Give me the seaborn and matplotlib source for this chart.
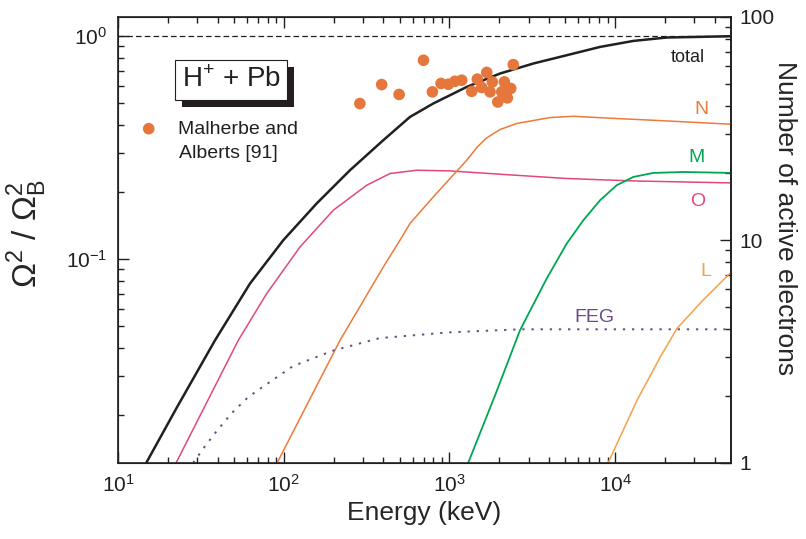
import numpy as np
import pandas as pd
import seaborn as sns
import matplotlib.pyplot as plt
import matplotlib.ticker as mticker
import matplotlib.patheffects as pe

# energies in keV, values as Omega^2 / Omega_B^2
total_E = [14.8, 22.7, 38.5, 62.6, 99.4, 158, 251, 399, 578, 799, 1272, 2020, 3208, 5105, 8110, 12880, 20480, 50000]
total_r = [0.0122, 0.0217, 0.0433, 0.0778, 0.1217, 0.1778, 0.2506, 0.3418, 0.4346, 0.4993, 0.5925, 0.6804, 0.7545, 0.8219, 0.8954, 0.9526, 0.9867, 1.0]

O_E = [22.4, 53.2, 79.0, 125.4, 199.2, 316.9, 438, 635, 1009, 2020, 5105, 12880, 50000]
O_r = [0.0122, 0.0433, 0.0702, 0.1135, 0.1659, 0.2147, 0.2423, 0.2506, 0.2489, 0.2405, 0.2301, 0.2244, 0.2199]

N_E = [91.2, 218.7, 399, 503, 578, 799, 1272, 1462, 1677, 2020, 2544, 4047, 5593, 10210, 20480, 50000]
N_r = [0.0122, 0.0433, 0.0923, 0.1217, 0.1446, 0.1903, 0.2779, 0.317, 0.350, 0.3817, 0.4061, 0.4318, 0.4375, 0.4275, 0.417, 0.4031]

M_E = [1297, 1900, 2668, 3866, 5105, 6429, 8110, 10220, 12880, 17000, 25800, 50000]
M_r = [0.0122, 0.0249, 0.0481, 0.0820, 0.1176, 0.1496, 0.1839, 0.2147, 0.2339, 0.2438, 0.2461, 0.2438]

L_E = [9060, 13550, 18700, 23650, 33900, 50000]
L_r = [0.0122, 0.0233, 0.0364, 0.049, 0.0655, 0.0874]

FEG_E = [28.4, 33.5, 38.5, 48.5, 61.1, 77.1, 114, 200, 380, 1000, 2670, 50000]
FEG_r = [0.0122, 0.0145, 0.0166, 0.0204, 0.0241, 0.0272, 0.0332, 0.039, 0.0443, 0.047, 0.0485, 0.0485]

# Malherbe and Alberts [91]
exp_E = [288, 390, 497, 697, 789, 890, 985, 1080, 1186, 1363, 1474, 1566, 1679, 1758, 1815, 1957, 2068, 2145, 2235, 2343, 2428]
exp_r = [0.499, 0.607, 0.548, 0.780, 0.563, 0.614, 0.609, 0.628, 0.635, 0.566, 0.642, 0.589, 0.688, 0.563, 0.624, 0.507, 0.563, 0.624, 0.529, 0.583, 0.746]

x_major = [10, 100, 1000, 10000]
Z_Pb = 82
dark = '#231f20'

sns.set_style('ticks')
plt.rcParams['font.family'] = ['Liberation Sans', 'DejaVu Sans']
plt.rcParams['axes.unicode_minus'] = False
plt.rcParams['text.color'] = dark
plt.rcParams['axes.edgecolor'] = dark
plt.rcParams['xtick.color'] = dark
plt.rcParams['ytick.color'] = dark
plt.rcParams['xtick.direction'] = 'in'
plt.rcParams['ytick.direction'] = 'in'
plt.rcParams['xtick.top'] = True

fig = plt.figure(figsize=(8.06, 5.39), dpi=100, facecolor='white')
ax = fig.add_axes([118 / 806, 1 - 463 / 539, 613 / 806, 446 / 539])

ax.axhline(1.0, color=dark, lw=0.9, ls=(0, (4.5, 2.5)), zorder=1)

curves = [
    (total_E, total_r, dark, 1.8, '-'),
    (O_E, O_r, '#e2487c', 1.1, '-'),
    (N_E, N_r, '#ec7a3a', 1.1, '-'),
    (M_E, M_r, '#00a651', 1.3, '-'),
    (L_E, L_r, '#f5a04a', 1.1, '-'),
    (FEG_E, FEG_r, '#6b4a86', 1.4, (0, (1.2, 3.5))),
]
for xs, ys, c, lw, ls in curves:
    sns.lineplot(x=xs, y=ys, ax=ax, color=c, lw=lw, linestyle=ls, sort=False)

sns.scatterplot(x=exp_E, y=exp_r, ax=ax, color='#e5773c', s=70, edgecolor='none',
                zorder=5, label='Malherbe and')

ax.set_xscale('log')
ax.set_yscale('log')
ax.set_xlim(10, 5e4)
ax.set_ylim(1 / Z_Pb, 100 / Z_Pb)

# right axis: number of active electrons (Pb, Z = 82)
ax2 = ax.twinx()
ax2.set_yscale('log')
ax2.set_ylim(1, 100)
ax2.yaxis.set_major_locator(mticker.FixedLocator([1, 10, 100]))
ax2.yaxis.set_major_formatter(mticker.FormatStrFormatter('%d'))
ax2.yaxis.set_minor_locator(mticker.LogLocator(base=10, subs=np.arange(2, 10), numticks=20))
ax2.yaxis.set_minor_formatter(mticker.NullFormatter())
ax2.tick_params(axis='y', which='both', direction='in', left=False, right=True, labelsize=15, width=1.0)
ax2.tick_params(axis='y', which='major', length=8, pad=6)
ax2.tick_params(axis='y', which='minor', length=4)
ax2.spines['right'].set_linewidth(1.2)

ax.set_zorder(ax2.get_zorder() + 1)
ax.patch.set_visible(False)

x_minor = [m * d for d in x_major for m in range(2, 10) if m * d < 5e4]
ax.xaxis.set_major_locator(mticker.FixedLocator(x_major))
ax.xaxis.set_major_formatter(mticker.LogFormatterSciNotation())
ax.xaxis.set_minor_locator(mticker.FixedLocator(x_minor))
ax.xaxis.set_minor_formatter(mticker.NullFormatter())
ax.yaxis.set_major_locator(mticker.FixedLocator([0.1, 1.0]))
ax.yaxis.set_major_formatter(mticker.LogFormatterSciNotation())
ax.yaxis.set_minor_locator(mticker.LogLocator(base=10, subs=np.arange(2, 10), numticks=20))
ax.yaxis.set_minor_formatter(mticker.NullFormatter())

ax.tick_params(axis='x', which='both', direction='in', bottom=True, top=True,
               labelsize=15, width=1.0, color=dark)
ax.tick_params(axis='y', which='both', direction='in', left=True, right=False,
               labelsize=15, width=1.0, color=dark)
ax.tick_params(which='major', length=8, pad=8)
ax.tick_params(which='minor', length=4)
for s in ax.spines.values():
    s.set_linewidth(1.2)

ax.set_xlabel('Energy (keV)', fontsize=19)
ax.xaxis.set_label_coords(0.5, -0.085)
ax.set_ylabel(r'Ω$^{\mathdefault{2}}$ / Ω$_{\mathdefault{B}}^{\mathdefault{2}}$', fontsize=24)
ax.yaxis.set_label_coords(-0.113, 0.515)
ax2.set_ylabel('Number of active electrons', fontsize=19, rotation=270, va='bottom')
ax2.yaxis.set_label_coords(1.068, 0.55)

# shell labels
for s, (px, py), c, fs in [('total', (688, 57), dark, 13), ('N', (701, 110), '#ec7a3a', 14),
                           ('M', (697, 157), '#00a651', 14), ('O', (698, 201), '#e2487c', 14),
                           ('L', (706, 271), '#f5a04a', 14), ('FEG', (594, 317), '#6b4a86', 14)]:
    ax.text(px / 806, 1 - py / 539, s, transform=fig.transFigure, fontsize=fs,
            color=c, ha='center', va='center')

# H+ + Pb box with shadow
t = ax.text(231 / 806, 1 - 80 / 539, r'H$^{\mathdefault{+}}$ + Pb', transform=fig.transFigure,
            fontsize=20, ha='center', va='center', color=dark,
            bbox=dict(boxstyle='square,pad=0.25', fc='white', ec=dark, lw=0.8))
t.get_bbox_patch().set_path_effects([
    pe.SimplePatchShadow(offset=(5, -5), shadow_rgbFace=dark, alpha=1.0), pe.Normal()])

leg = ax.legend(loc='center left', bbox_to_anchor=(139 / 806, 1 - 129 / 539),
                bbox_transform=fig.transFigure, frameon=False, fontsize=14,
                handlelength=1.0, handletextpad=1.0, borderpad=0, borderaxespad=0)
ax.text(179 / 806, 1 - 153 / 539, 'Alberts [91]', transform=fig.transFigure,
        fontsize=14, ha='left', va='center')

fig.savefig('out.png', dpi=100, facecolor='white')
